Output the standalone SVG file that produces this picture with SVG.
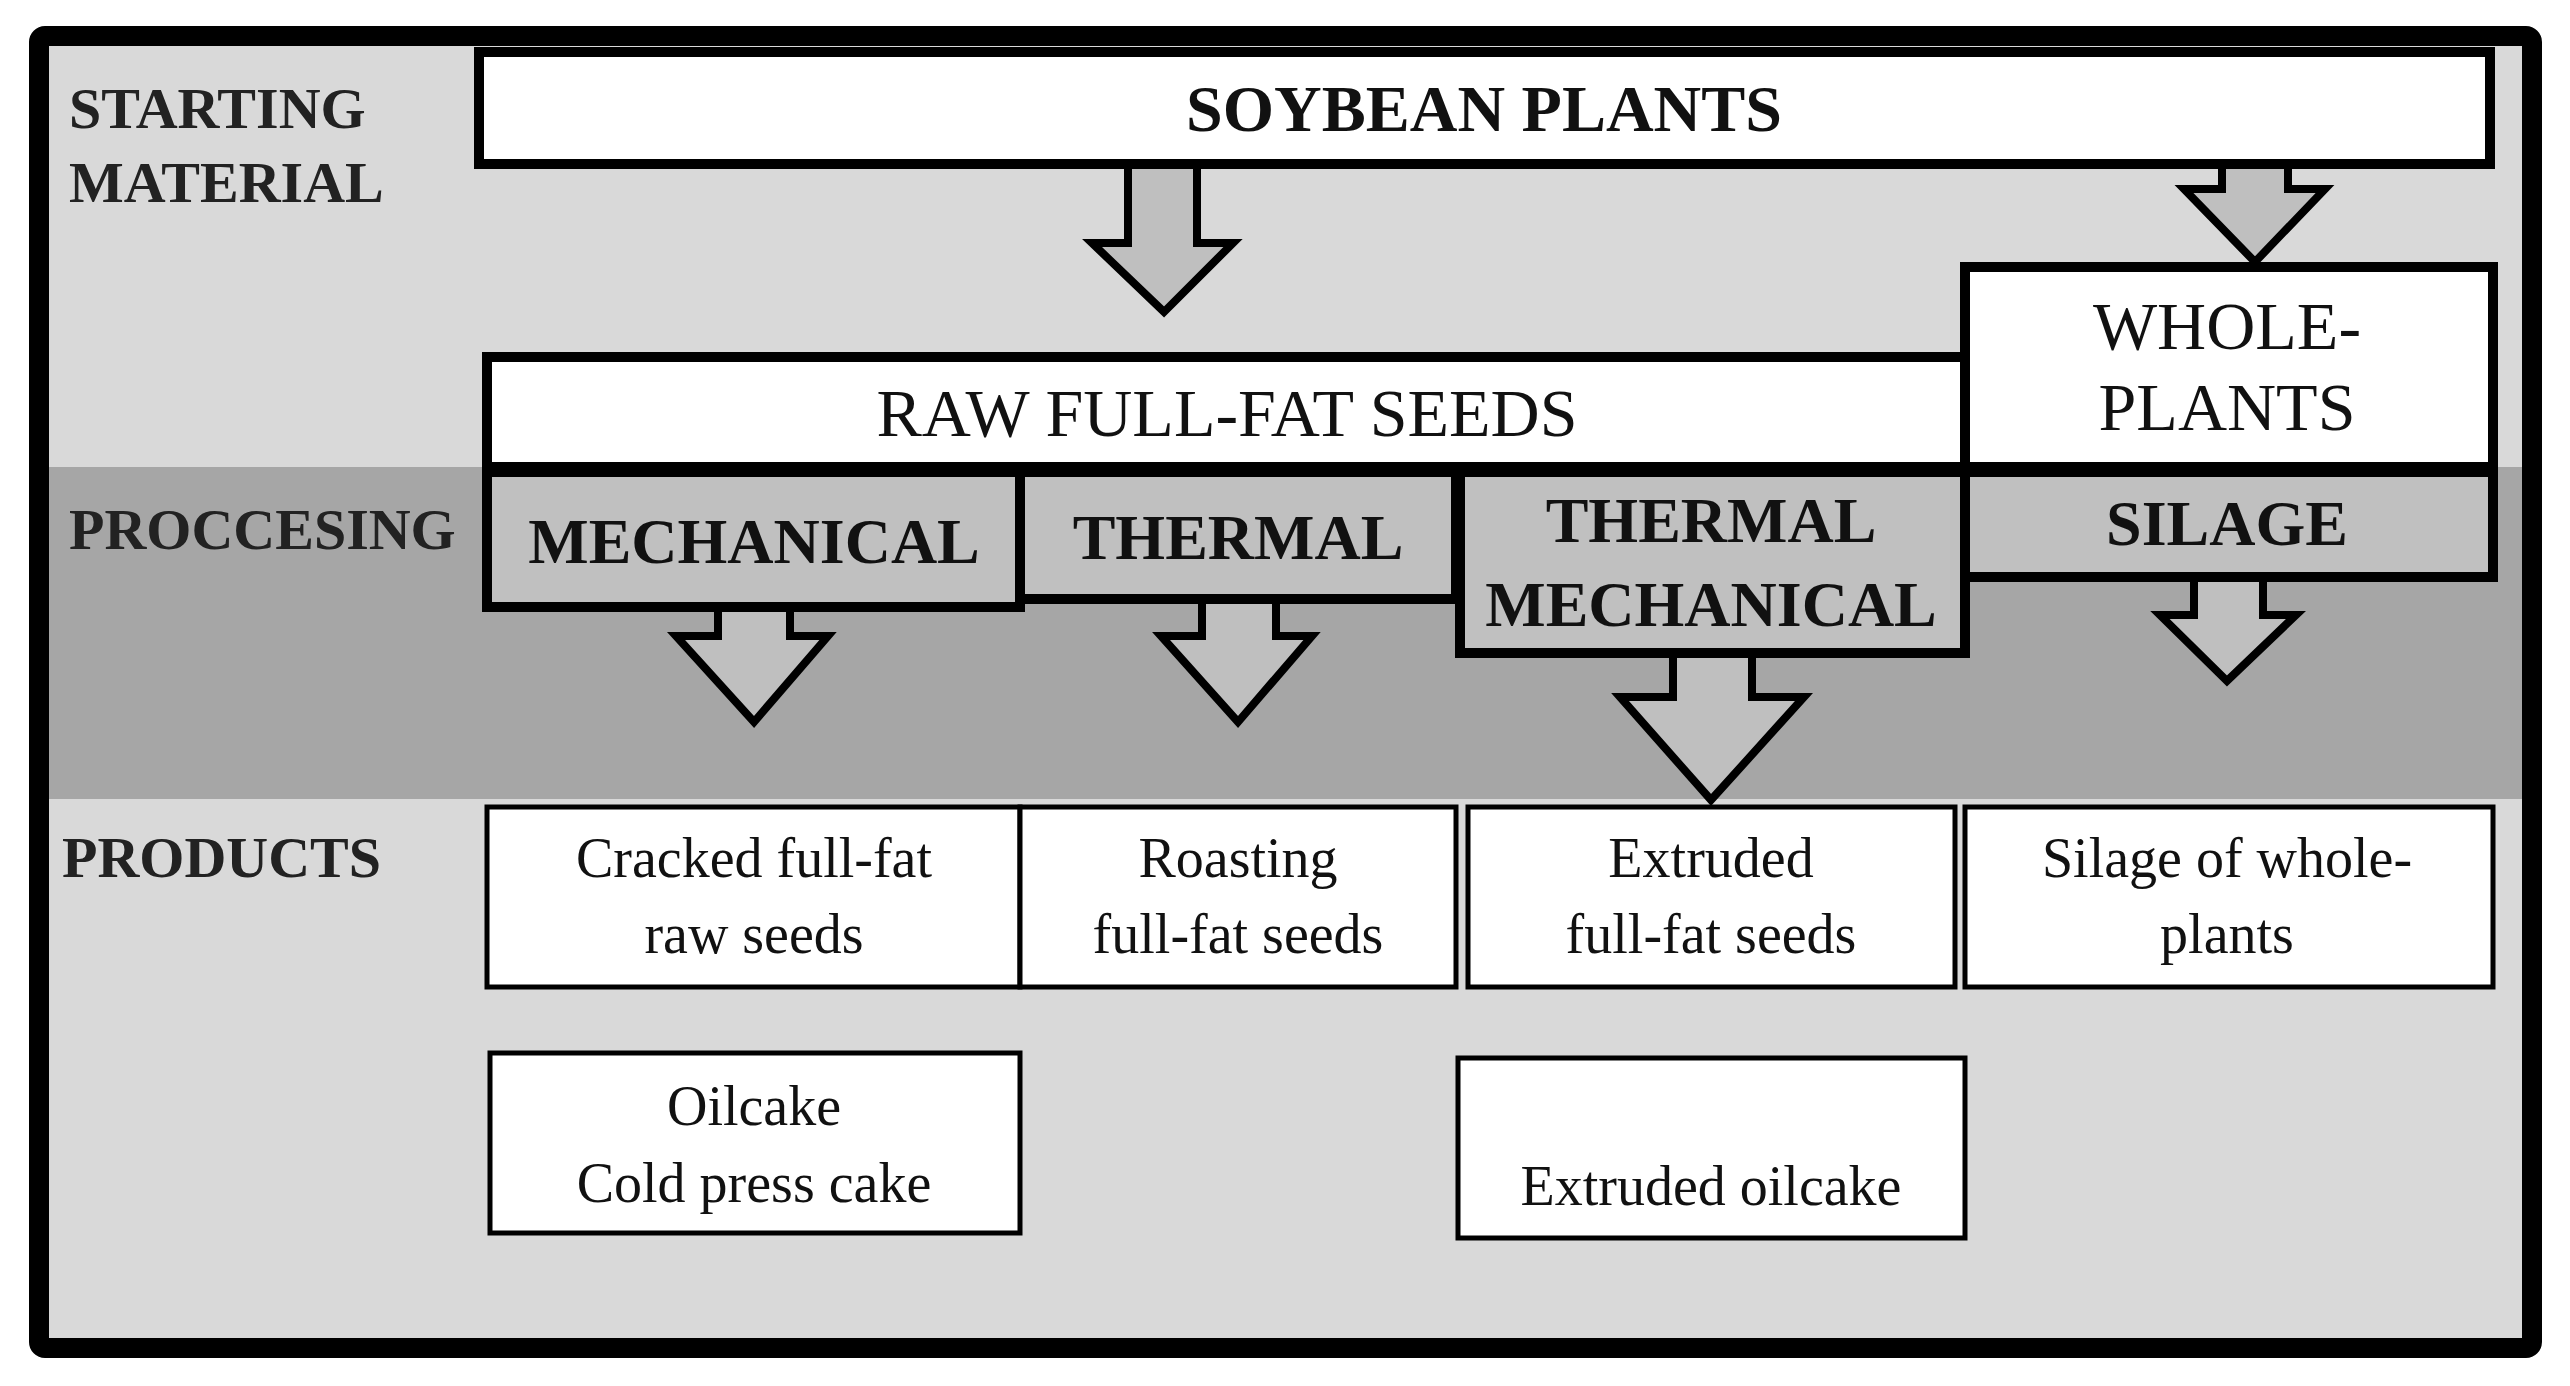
<svg xmlns="http://www.w3.org/2000/svg" width="2570" height="1386" viewBox="0 0 2570 1386">
<style>
text{font-family:"Liberation Serif","Times New Roman",serif;text-anchor:middle;fill:#111}
.lab{text-anchor:start;font-size:58px;font-weight:bold;fill:#222}
.wb{fill:#fff;stroke:#000;stroke-width:10}
.pb{fill:#c0c0c0;stroke:#000;stroke-width:10}
.prod{fill:#fff;stroke:#000;stroke-width:5}
.arr{fill:#bfbfbf;stroke:#000;stroke-width:8;stroke-linejoin:miter}
.t1{font-size:68px}
.t2{font-size:64px;font-weight:bold}
.t3{font-size:56px}
</style>
<rect x="0" y="0" width="2570" height="1386" fill="#fff"/>
<rect x="39" y="36" width="2493" height="1312" fill="#d9d9d9" stroke="#000" stroke-width="20" rx="6"/>
<rect x="49" y="467" width="2473" height="332" fill="#a6a6a6"/>
<g id="labels">
<text class="lab" x="69" y="128">STARTING</text>
<text class="lab" x="69" y="202">MATERIAL</text>
<text class="lab" x="69" y="549">PROCCESING</text>
<text class="lab" x="62" y="877">PRODUCTS</text>
</g>
<g id="connectors">
<polygon class="arr" points="1128,160 1197,160 1197,243 1233,243 1164,312 1092,243 1128,243"/>
<polygon class="arr" points="2222,160 2288,160 2288,189 2325,189 2255,262 2184,189 2222,189"/>
<polygon class="arr" points="718,600 790,600 790,636 828,636 754,722 676,636 718,636"/>
<polygon class="arr" points="1202,594 1276,594 1276,636 1312,636 1238,722 1161,636 1202,636"/>
<polygon class="arr" points="1673,648 1752,648 1752,697 1804,697 1711,800 1620,697 1673,697"/>
<polygon class="arr" points="2194,572 2263,572 2263,615 2296,615 2227,681 2160,615 2194,615"/>
</g>
<g id="soybean"><rect class="wb" x="479" y="52" width="2011" height="112"/><text x="1484" y="131" font-size="66" font-weight="bold">SOYBEAN PLANTS</text></g>
<g id="raw"><rect class="wb" x="487" y="357" width="1478" height="110"/><text class="t1" x="1227" y="436">RAW FULL-FAT SEEDS</text></g>
<g id="whole"><rect class="wb" x="1965" y="267" width="528" height="200"/><text class="t1" x="2227" y="349">WHOLE-</text><text class="t1" x="2227" y="430">PLANTS</text></g>
<g id="mechanical"><rect class="pb" x="487" y="472" width="533" height="135"/><text class="t2" x="754" y="563">MECHANICAL</text></g>
<g id="thermal"><rect class="pb" x="1020" y="472" width="436" height="127"/><text class="t2" x="1238" y="559">THERMAL</text></g>
<g id="thermmech"><rect class="pb" x="1460" y="472" width="505" height="181"/><text class="t2" x="1711" y="542">THERMAL</text><text class="t2" x="1711" y="626">MECHANICAL</text></g>
<g id="silage"><rect class="pb" x="1965" y="472" width="528" height="105"/><text class="t2" x="2227" y="545">SILAGE</text></g>
<g id="p1"><rect class="prod" x="487" y="807" width="533" height="180"/><text class="t3" x="754" y="877">Cracked full-fat</text><text class="t3" x="754" y="953">raw seeds</text></g>
<g id="p2"><rect class="prod" x="1020" y="807" width="436" height="180"/><text class="t3" x="1238" y="877">Roasting</text><text class="t3" x="1238" y="953">full-fat seeds</text></g>
<g id="p3"><rect class="prod" x="1468" y="807" width="487" height="180"/><text class="t3" x="1711" y="877">Extruded</text><text class="t3" x="1711" y="953">full-fat seeds</text></g>
<g id="p4"><rect class="prod" x="1965" y="807" width="528" height="180"/><text class="t3" x="2227" y="877">Silage of whole-</text><text class="t3" x="2227" y="953">plants</text></g>
<g id="oilcake"><rect class="prod" x="490" y="1053" width="530" height="180"/><text class="t3" x="754" y="1125">Oilcake</text><text class="t3" x="754" y="1202">Cold press cake</text></g>
<g id="extoil"><rect class="prod" x="1458" y="1058" width="507" height="180"/><text class="t3" x="1711" y="1205">Extruded oilcake</text></g>
</svg>
